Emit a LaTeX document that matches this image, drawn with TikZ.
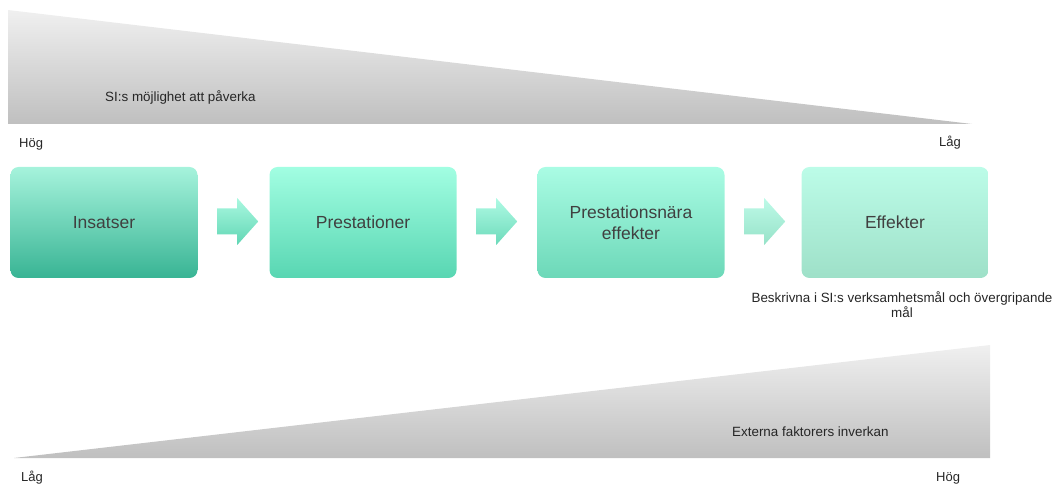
\documentclass[tikz,border=0pt]{standalone}
\usepackage{fontspec}
\setmainfont{Liberation Sans}
\usetikzlibrary{calc}
\begin{document}
\begin{tikzpicture}[x=1pt,y=-1pt,
  lbl/.style={font=\fontsize{13.4}{15}\selectfont, text=black!85, inner sep=0pt},
  endlbl/.style={font=\fontsize{13}{15}\selectfont, text=black!85, inner sep=0pt},
  boxtxt/.style={font=\fontsize{17.5}{21}\selectfont, text=black!75, align=center},
  flowbox/.style={rounded corners=8pt, minimum width=187pt, minimum height=111pt, inner sep=0pt},
  arrowshape/.style={insert path={(0,-13) -- (20,-13) -- (20,-23.5) -- (41,0) -- (20,23.5) -- (20,13) -- (0,13) -- cycle}}
]
\useasboundingbox (0,0) rectangle (1057,486);
% top wedge
\shade[top color=black!6, bottom color=black!25] (8,10) -- (8,124) -- (972,124) -- cycle;
\node[lbl, anchor=west] (poss) at (105,97) {SI:s möjlighet att påverka};
\node[endlbl, anchor=west] (hog1) at (19,144) {Hög};
\node[endlbl, anchor=east] (lag1) at (961,143) {Låg};
% boxes
\node[flowbox, top color={rgb,255:red,166;green,243;blue,220}, bottom color={rgb,255:red,56;green,180;blue,148}] (b1) at (104,222.5) {};
\node[boxtxt] (t1) at (b1) {Insatser};
\node[flowbox, top color={rgb,255:red,162;green,254;blue,226}, bottom color={rgb,255:red,88;green,214;blue,178}] (b2) at (363,222.5) {};
\node[boxtxt] (t2) at (b2) {Prestationer};
\node[flowbox, top color={rgb,255:red,170;green,252;blue,228}, bottom color={rgb,255:red,108;green,216;blue,184}] (b3) at (631,222.5) {};
\node[boxtxt] (t3) at (b3) {Prestationsnära\\effekter};
\node[flowbox, top color={rgb,255:red,188;green,252;blue,232}, bottom color={rgb,255:red,158;green,224;blue,200}] (b4) at (895,222.5) {};
\node[boxtxt] (t4) at (b4) {Effekter};
% arrows between boxes
\begin{scope}[shift={($(b1.east)+(19.5,-1)$)}]
  \shade[top color={rgb,255:red,170;green,248;blue,224}, bottom color={rgb,255:red,96;green,214;blue,180}, arrowshape];
\end{scope}
\begin{scope}[shift={($(b2.east)+(19.5,-1)$)}]
  \shade[top color={rgb,255:red,175;green,250;blue,228}, bottom color={rgb,255:red,108;green,218;blue,186}, arrowshape];
\end{scope}
\begin{scope}[shift={($(b3.east)+(19.5,-1)$)}]
  \shade[top color={rgb,255:red,190;green,250;blue,232}, bottom color={rgb,255:red,150;green,226;blue,200}, arrowshape];
\end{scope}
% note
\node[lbl, align=center, anchor=north] (note) at (902,291) {Beskrivna i SI:s verksamhetsmål och övergripande\\mål};
% bottom wedge
\shade[top color=black!6, bottom color=black!25] (14,458) -- (990,458) -- (990,345) -- cycle;
\node[lbl, anchor=west] (ext) at (732,432) {Externa faktorers inverkan};
\node[endlbl, anchor=west] (lag2) at (21,478) {Låg};
\node[endlbl, anchor=west] (hog2) at (936,478) {Hög};
\end{tikzpicture}
\end{document}
